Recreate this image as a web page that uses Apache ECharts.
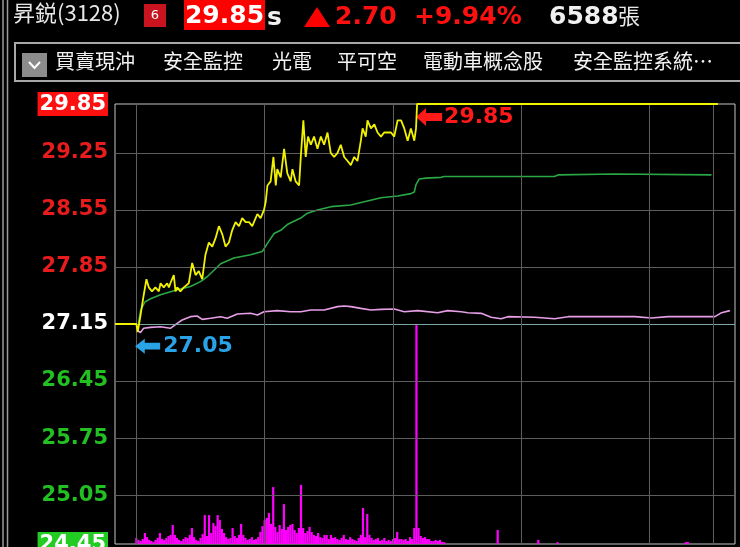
<!DOCTYPE html>
<html><head><meta charset="utf-8">
<script src="https://cdn.jsdelivr.net/npm/echarts@6/dist/echarts.min.js"></script>
<style>html,body{margin:0;padding:0;background:#000;}#c{width:740px;height:547px;}</style>
</head><body><div id="c"></div>
<script>
// ---- data (minutes from 09:00) ----
const prevClose = 27.15;
const limitUp = 29.85;
const limitDown = 24.45;
const yTicks = [29.85, 29.25, 28.55, 27.85, 27.15, 26.45, 25.75, 25.05, 24.45];
const timeGrid = [0, 60, 120, 180, 240, 270];
const priceGrid = [29.25, 28.55, 27.85, 26.45, 25.75, 25.05];

const highTime = 131.3, highPrice = 29.85;
const lowTime = 0.6, lowPrice = 27.05;

const priceTime = [-10,0,0.6,1.9,3.4,4.7,5.8,7.3,8.9,10.5,11.3,12.8,14.4,15.2,15.9,17.5,18.3,19.1,20.6,22.2,24.5,26.1,27.7,29.2,30.8,32.3,33.9,35.5,37.0,38.6,40.2,41.7,43.3,44.8,46.4,48.0,49.5,51.1,52.7,54.2,56.6,58.1,59.7,60.5,61.3,62.8,64.1,65.2,65.9,67.5,69.1,70.6,72.2,73.0,74.5,76.1,76.9,78.1,79.2,80.3,81.6,83.1,84.7,86.3,87.8,89.4,90.9,92.5,94.1,95.6,97.2,98.8,100.3,101.9,103.4,105.0,105.8,107.3,108.1,109.7,111.3,112.8,114.4,115.9,117.5,119.1,120.6,122.2,123.8,125.3,126.9,128.4,130.0,130.8,131.3,272];
const priceValue = [27.15,27.15,27.05,27.25,27.50,27.70,27.60,27.55,27.60,27.55,27.65,27.60,27.65,27.60,27.65,27.75,27.55,27.60,27.55,27.60,27.65,27.90,27.75,27.80,27.70,28.00,28.15,28.10,28.20,28.35,28.25,28.10,28.15,28.30,28.40,28.35,28.45,28.40,28.40,28.35,28.50,28.45,28.55,28.65,28.85,28.90,29.20,28.85,29.05,28.95,29.30,29.00,28.90,29.05,28.90,28.85,29.20,29.65,29.20,29.45,29.35,29.45,29.30,29.45,29.35,29.50,29.25,29.20,29.25,29.35,29.20,29.15,29.10,29.20,29.15,29.40,29.55,29.45,29.65,29.55,29.60,29.50,29.45,29.50,29.50,29.50,29.45,29.65,29.65,29.55,29.40,29.55,29.40,29.55,29.85,29.85];

const avgTime = [1,2,4,6.6,11.3,19.1,25.3,30,33.1,36.3,39.4,45.6,53.4,58.9,61.3,64.4,67.5,70.6,73.7,76.9,80,84.7,91,100.3,106.6,114.4,122.2,128.4,130,130.8,132.3,135.5,142.5,144,195.5,197.3,223.6,269];
const avgValue = [27.16,27.32,27.42,27.46,27.51,27.57,27.61,27.67,27.73,27.81,27.89,27.96,28.00,28.04,28.14,28.26,28.30,28.37,28.41,28.45,28.51,28.55,28.59,28.61,28.65,28.70,28.72,28.75,28.77,28.86,28.93,28.94,28.95,28.96,28.96,28.98,28.99,28.98];

const idxTime = [0,1.9,3.4,6.6,11.3,15.9,19.1,21.4,25.3,28.4,30.8,34.7,39.4,42.5,47.2,53.4,56.6,59.7,65.9,72.2,76.9,81.6,87.8,94.1,97.2,100.3,105,109.7,114.4,120.6,125.3,131.6,140.9,145.6,151.9,155,161.3,165.9,170.6,173.75,186.3,195.6,201.9,217.5,233.1,241,248.75,264.4,270.6,273.75,277.6];
const idxValue = [27.085,27.044,27.097,27.109,27.117,27.097,27.158,27.199,27.240,27.248,27.207,27.220,27.240,27.220,27.273,27.281,27.260,27.300,27.314,27.300,27.300,27.322,27.322,27.363,27.371,27.363,27.342,27.322,27.330,27.334,27.300,27.314,27.289,27.314,27.300,27.289,27.281,27.232,27.215,27.240,27.232,27.215,27.240,27.240,27.240,27.224,27.240,27.240,27.240,27.289,27.314];

// volume per minute from 09:00 (lots)
const volValue = [22,15,11,18,40,25,15,11,7,15,22,40,18,15,22,29,33,69,33,22,15,11,18,25,22,33,58,25,15,11,22,36,105,29,105,40,76,65,105,87,55,40,25,18,22,58,29,22,33,73,33,22,15,18,25,15,18,25,44,65,87,95,113,73,207,62,44,69,55,145,51,62,69,73,51,40,58,215,58,40,47,62,44,33,29,40,25,22,33,33,18,33,22,25,18,15,22,33,18,15,25,18,15,11,22,33,131,25,109,33,22,15,18,22,11,15,22,11,15,11,18,22,44,18,18,15,18,11,25,18,58,796,58,29,22,25,18,18,11,11,15,11,15,7,7];
const lateVolTime = [169,188,197,257,258];
const lateVolValue = [51,15,7,7,7];

// ---- build ----
const pairs = (t, v) => t.map((x, i) => [x, v[i]]);
const volData = volValue.map((v, i) => [i, v]).concat(pairs(lateVolTime, lateVolValue));

const NUM = 'DejaVu Sans';
const CJK = 'Noto Sans CJK TC';
const arrow = 'path://M0,9 L10,0 L10,5 L26,5 L26,13 L10,13 L10,18 Z';

const gridLines = [];
priceGrid.forEach(p => gridLines.push({ yAxis: p }));
gridLines.push({ yAxis: prevClose, lineStyle: { color: '#7fa6a6', width: 1, type: 'solid' } });
timeGrid.forEach(t => gridLines.push({ xAxis: t }));

const chart = echarts.init(document.getElementById('c'), null, { renderer: 'canvas' });
const toolbarItems = [['買賣現沖', 55], ['安全監控', 163], ['光電', 272], ['平可空', 337], ['電動車概念股', 423], ['安全監控系統…', 573]];

const graphics = [
  { type: 'line', shape: { x1: 3, y1: 0, x2: 3, y2: 547 }, style: { stroke: '#9a9a9a', lineWidth: 1.5 } },
  { type: 'line', shape: { x1: 7.5, y1: 0, x2: 7.5, y2: 547 }, style: { stroke: '#9a9a9a', lineWidth: 1.5 } },
  { type: 'text', left: 13, top: 2, style: { text: '昇鋭(3128)', fill: '#e8e8e8', font: '22px "' + CJK + '"' } },
  { type: 'rect', shape: { x: 144, y: 4, width: 22, height: 23 }, style: { fill: '#c8141e' } },
  { type: 'text', x: 155, y: 16, style: { text: '6', fill: '#ffffff', font: '13px "' + NUM + '"', align: 'center', verticalAlign: 'middle' } },
  { type: 'rect', shape: { x: 184, y: 0, width: 81, height: 30 }, style: { fill: '#ff0000' } },
  { type: 'text', x: 224.5, y: 16, style: { text: '29.85', fill: '#ffffff', font: 'bold 25px "' + NUM + '"', align: 'center', verticalAlign: 'middle' } },
  { type: 'text', x: 267, y: 18, style: { text: 's', fill: '#f0f0f0', font: 'bold 25px "' + NUM + '"', align: 'left', verticalAlign: 'middle' } },
  { type: 'polygon', shape: { points: [[304, 27], [317, 7], [330, 27]] }, style: { fill: '#ff0000' } },
  { type: 'text', x: 335, y: 17, style: { text: '2.70', fill: '#ff1010', font: 'bold 25px "' + NUM + '"', align: 'left', verticalAlign: 'middle' } },
  { type: 'text', x: 414, y: 17, style: { text: '+9.94%', fill: '#ff1010', font: 'bold 25px "' + NUM + '"', align: 'left', verticalAlign: 'middle' } },
  { type: 'text', x: 549, y: 17, style: { text: '6588', fill: '#f0f0f0', font: 'bold 25px "' + NUM + '"', align: 'left', verticalAlign: 'middle' } },
  { type: 'text', x: 618, y: 16, style: { text: '張', fill: '#e8e8e8', font: '22px "' + CJK + '"', align: 'left', verticalAlign: 'middle' } },
  { type: 'rect', shape: { x: 15, y: 43, width: 740, height: 38 }, style: { fill: 'none', stroke: '#a8a8a8', lineWidth: 2 } },
  { type: 'rect', shape: { x: 22, y: 53, width: 25, height: 24 }, style: { fill: '#8c8c8c' } },
  { type: 'polyline', shape: { points: [[29, 62], [34.5, 68], [40, 62]] }, style: { stroke: '#ffffff', lineWidth: 2, fill: 'none' } }
];
toolbarItems.forEach(([t, x]) => graphics.push({ type: 'text', x: x, y: 61, style: { text: t, fill: '#f2f2f2', font: '20px "' + CJK + '"', align: 'left', verticalAlign: 'middle' } }));

const labelBase = { fontFamily: NUM, fontWeight: 'bold', fontSize: 21 };
chart.setOption({
  backgroundColor: '#000000',
  animation: false,
  graphic: graphics,
  grid: { left: 115, top: 104, width: 620, height: 440, outerBoundsMode: 'none', containLabel: false, show: true, borderColor: '#c4c4c4', borderWidth: 1, backgroundColor: 'transparent' },
  xAxis: { type: 'value', min: -10, max: 280, axisLine: { show: false }, axisTick: { show: false }, axisLabel: { show: false }, splitLine: { show: false } },
  yAxis: [
    {
      type: 'value', min: limitDown, max: limitUp,
      axisLine: { show: false }, axisTick: { show: false }, splitLine: { show: false },
      axisLabel: {
        show: true, customValues: yTicks, showMinLabel: true, showMaxLabel: true, hideOverlap: false, margin: 7,
        fontFamily: NUM, fontWeight: 'bold', fontSize: 21,
        formatter: v => {
          const s = Number(v).toFixed(2);
          if (Math.abs(v - limitUp) < 1e-6) return '{hi|' + s + '}';
          if (Math.abs(v - limitDown) < 1e-6) return '{lo|' + s + '}';
          if (Math.abs(v - prevClose) < 1e-6) return '{fl|' + s + '}';
          return v > prevClose ? '{up|' + s + '}' : '{dn|' + s + '}';
        },
        rich: {
          hi: Object.assign({ color: '#ffffff', backgroundColor: '#ff1010', padding: [2, 2, 1, 2] }, labelBase),
          lo: Object.assign({ color: '#ffffff', backgroundColor: '#22cc22', padding: [2, 2, 1, 2] }, labelBase),
          fl: Object.assign({ color: '#ffffff' }, labelBase),
          up: Object.assign({ color: '#e81c1c' }, labelBase),
          dn: Object.assign({ color: '#22c022' }, labelBase)
        }
      }
    },
    { type: 'value', min: 0, max: 1600, show: false, splitLine: { show: false } }
  ],
  series: [
    {
      name: 'grid', type: 'line', data: [], z: 1, silent: true,
      markLine: { silent: true, symbol: ['none', 'none'], label: { show: false }, animation: false,
        lineStyle: { color: '#5e5e5e', width: 1, type: 'solid' }, data: gridLines }
    },
    { name: 'vol', type: 'bar', yAxisIndex: 1, barWidth: 2.2, data: volData, itemStyle: { color: '#ff00ff' }, z: 2, silent: true },
    { name: 'index', type: 'line', data: pairs(idxTime, idxValue), symbol: 'none', lineStyle: { color: '#e69ee6', width: 1.6 }, z: 3, silent: true },
    { name: 'avg', type: 'line', data: pairs(avgTime, avgValue), symbol: 'none', lineStyle: { color: '#2aa845', width: 1.6 }, z: 4, silent: true },
    {
      name: 'price', type: 'line', data: pairs(priceTime, priceValue), symbol: 'none', clip: false,
      lineStyle: { color: '#f2f200', width: 1.8 }, z: 5, silent: true,
      markPoint: {
        silent: true, animation: false,
        data: [
          { coord: [highTime, highPrice], symbol: arrow, symbolSize: [26, 18], symbolOffset: [12, 13], itemStyle: { color: '#ff1a1a' },
            label: { show: true, position: 'right', distance: 2, formatter: highPrice.toFixed(2), color: '#ff1a1a', fontSize: 22, fontWeight: 'bold', fontFamily: NUM } },
          { coord: [lowTime, lowPrice], symbol: arrow, symbolSize: [25, 15], symbolOffset: [10, 14], itemStyle: { color: '#2aa3e6' },
            label: { show: true, position: 'right', distance: 3, formatter: lowPrice.toFixed(2), color: '#2aa3e6', fontSize: 22, fontWeight: 'bold', fontFamily: NUM } }
        ]
      }
    }
  ]
});
</script></body></html>
